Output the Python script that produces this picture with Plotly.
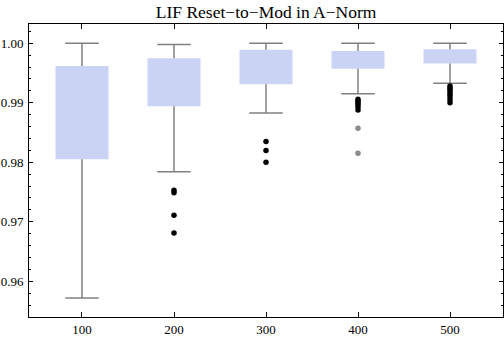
# LIF Reset-to-Mod in A-Norm — box-whisker chart (Mathematica style)
import plotly.graph_objects as go

# ── data ─────────────────────────────────────────────
categories = ["100", "200", "300", "400", "500"]
q1 = [0.9805, 0.9894, 0.9931, 0.9957, 0.9966]
q3 = [0.9962, 0.9975, 0.9989, 0.9987, 0.9990]
whisker_lo = [0.9572, 0.9784, 0.9883, 0.9915, 0.9933]
whisker_hi = [1.0000, 0.9998, 1.0000, 1.0000, 1.0000]

# outliers (near) and far outliers
out_cat = (["200"] * 4 + ["300"] * 3 + ["400"] * 6 + ["500"] * 8)
out_val = ([0.9753, 0.9749, 0.9711, 0.9681,
            0.9835, 0.9820, 0.9800,
            0.9906, 0.9903, 0.9900, 0.9897, 0.9893, 0.9888,
            0.9928, 0.9925, 0.9922, 0.9918, 0.9914, 0.9910, 0.9905, 0.9900])
far_cat = ["400", "400"]
far_val = [0.9857, 0.9815]

BOX = "#CBD3F4"
GRAY = "#808080"
FONT = "Liberation Serif"

fig = go.Figure()

# boxes
fig.add_trace(go.Bar(
    x=categories, y=[b - a for a, b in zip(q1, q3)], base=q1,
    width=0.576, marker=dict(color=BOX, line=dict(width=0)),
))

# whiskers
wx, wy = [], []
for c, a, b, lo, hi in zip(categories, q1, q3, whisker_lo, whisker_hi):
    wx += [c, c, None, c, c, None]
    wy += [b, hi, None, lo, a, None]
fig.add_trace(go.Scatter(x=wx, y=wy, mode="lines",
                         line=dict(color=GRAY, width=1.5)))

# caps
fig.add_trace(go.Scatter(
    x=categories + categories, y=whisker_hi + whisker_lo, mode="markers",
    marker=dict(symbol="line-ew", size=24, line=dict(color=GRAY, width=1.5)),
))

# outliers
fig.add_trace(go.Scatter(x=out_cat, y=out_val, mode="markers",
                         marker=dict(color="black", size=5.5)))
fig.add_trace(go.Scatter(x=far_cat, y=far_val, mode="markers",
                         marker=dict(color="#8a8a8a", size=5.5)))

axis_common = dict(showline=True, linecolor="black", linewidth=1,
                   mirror="allticks", ticks="inside", tickcolor="black",
                   showgrid=False, zeroline=False, automargin=False,
                   tickfont=dict(family=FONT, size=13, color="black"))

fig.update_xaxes(type="category", range=[-0.576, 4.576], ticklen=5,
                 **axis_common)
fig.update_yaxes(range=[0.9540, 1.00324], tickmode="linear", tick0=0.96,
                 dtick=0.01, tickformat=".2f", ticklen=4,
                 ticklabelstandoff=2,
                 minor=dict(tick0=0.96, dtick=0.002, ticklen=2,
                            ticks="inside", tickcolor="black",
                            showgrid=False),
                 **axis_common)

fig.update_layout(
    width=504, height=339,
    margin=dict(l=29, r=1, t=24, b=22),
    plot_bgcolor="white", paper_bgcolor="white",
    showlegend=False,
    title=dict(text="LIF Reset\u2212to\u2212Mod in A\u2212Norm",
               x=0.528, xanchor="center", y=0.964, yanchor="middle",
               yref="container",
               font=dict(family=FONT, size=17.5, color="black")),
)

# page margin off so the 504x339 figure fills the window
fig.write_html("out.html", config={"displayModeBar": False},
               post_script="document.body.style.margin='0';")
